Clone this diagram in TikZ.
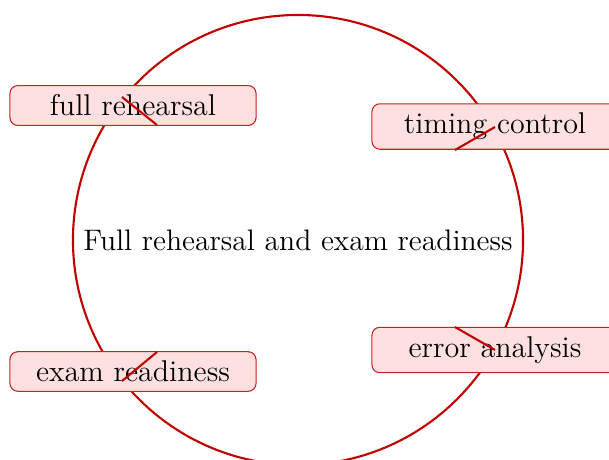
\documentclass[tikz,border=0pt]{standalone}
\definecolor{ringred}{RGB}{192,0,0}
\definecolor{boxred}{RGB}{204,30,30}
\definecolor{boxfill}{RGB}{255,224,224}
\begin{document}
\begin{tikzpicture}[x=0.3795pt,y=-0.3795pt,
  every node/.style={font=\fontsize{11.4}{14}\selectfont},
  ring/.style={circle, draw=ringred, line width=0.8pt, minimum size=170.8pt, inner sep=0pt, font=\fontsize{11.25}{14}\selectfont},
  item/.style={draw=boxred, line width=0.4pt, fill=boxfill, rounded corners=3pt, minimum width=93.4pt, inner sep=3.5pt},
  tick/.style={draw=ringred, line width=0.8pt}]
\useasboundingbox (0,0) rectangle (609,459);
\node[ring] (c) at (298,240) {Full rehearsal and exam readiness};
\node[item] (n1) at (133,105.5) {full rehearsal};
\node[item] (n2) at (495,126.5) {timing control};
\node[item] (n3) at (495,350) {error analysis};
\node[item] (n4) at (133,371.5) {exam readiness};
\coordinate (a1) at (122,97);  \coordinate (b1) at (157,125);
\coordinate (a2) at (495,127); \coordinate (b2) at (455,150);
\coordinate (a3) at (495,350); \coordinate (b3) at (455,327);
\coordinate (a4) at (122,381); \coordinate (b4) at (157,352);
\draw[tick] (a1) -- (b1);
\draw[tick] (a2) -- (b2);
\draw[tick] (a3) -- (b3);
\draw[tick] (a4) -- (b4);
\end{tikzpicture}
\end{document}
